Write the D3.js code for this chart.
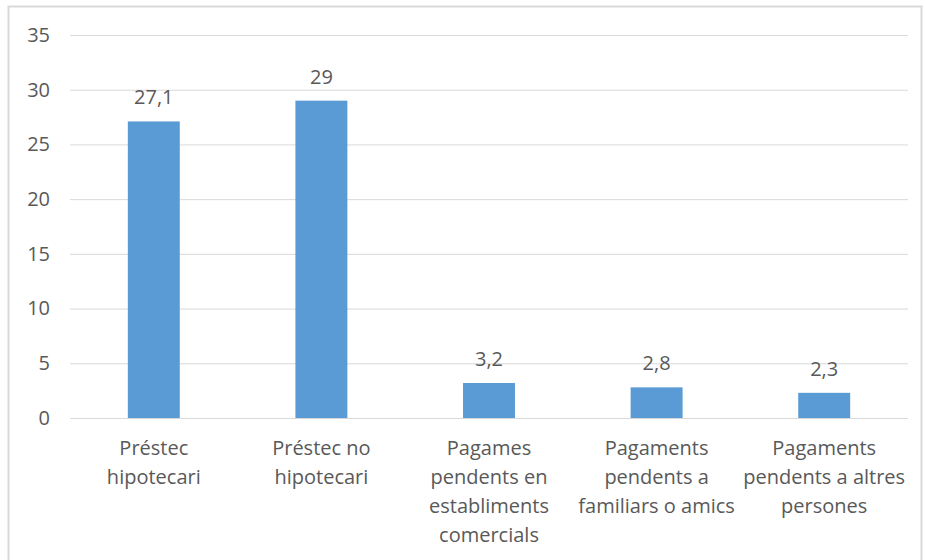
<!DOCTYPE html>
<html>
<head>
<meta charset="utf-8">
<script src="https://cdn.jsdelivr.net/npm/d3@7"></script>
<style>
  body { margin: 0; background: #fff; }
  text { font-family: "Open Sans", "Liberation Sans", sans-serif; fill: #595959; }
</style>
</head>
<body>
<script>
;(() => {
    var width = 925, height = 560;

    // data (\n marks the label line breaks)
    var categories = [
        'Préstec\nhipotecari',
        'Préstec no\nhipotecari',
        'Pagames\npendents en\nestabliments\ncomercials',
        'Pagaments\npendents a\nfamiliars o amics',
        'Pagaments\npendents a altres\npersones'
    ];
    var values = [27.1, 29, 3.2, 2.8, 2.3];
    var yTicks = [0, 5, 10, 15, 20, 25, 30, 35];

    var margin = { left: 70, right: 17, top: 35, bottom: 142 }; // plot area

    var svg = d3.select('body')
        .append('svg')
        .attr('width', width)
        .attr('height', height);

    // chart border
    svg.append('rect')
        .attr('x', 8.5)
        .attr('y', 6.5)
        .attr('width', 913)
        .attr('height', 570)
        .attr('fill', 'none')
        .attr('stroke', '#d9d9d9')
        .attr('stroke-width', 2);

    var x = d3.scaleBand()
        .domain(categories)
        .range([margin.left, width - margin.right])
        .paddingInner(0.69)
        .paddingOuter(0.345);

    var y = d3.scaleLinear()
        .domain([0, 35])
        .range([height - margin.bottom, margin.top]);

    // gridlines + y labels
    var yAxis = svg.append('g')
        .attr('transform', 'translate(' + margin.left + ',0)')
        .call(d3.axisLeft(y)
            .tickValues(yTicks)
            .tickSize(-(width - margin.left - margin.right))
            .tickPadding(20)
            .tickFormat(d3.format('d')));
    yAxis.select('.domain').remove();
    yAxis.selectAll('line')
        .attr('stroke', '#d9d9d9')
        .attr('stroke-width', 1);
    yAxis.selectAll('text')
        .attr('fill', '#595959')
        .style('font-size', '20px');

    // bars
    svg.selectAll('rect.bar')
        .data(values)
        .enter()
        .append('rect')
        .classed('bar', true)
        .attr('x', (d, i) => x(categories[i]))
        .attr('y', d => y(d))
        .attr('width', x.bandwidth())
        .attr('height', d => y(0) - y(d))
        .attr('fill', '#5b9bd5');

    // value labels
    svg.selectAll('text.val')
        .data(values)
        .enter()
        .append('text')
        .classed('val', true)
        .attr('x', (d, i) => x(categories[i]) + x.bandwidth() / 2)
        .attr('y', d => y(d) - 17)
        .attr('text-anchor', 'middle')
        .style('font-size', '20px')
        .text(d => String(d).replace('.', ','));

    // category labels
    var lineH = 29;
    svg.selectAll('text.cat')
        .data(categories)
        .enter()
        .append('text')
        .classed('cat', true)
        .attr('text-anchor', 'middle')
        .style('font-size', '20px')
        .attr('y', y(0) + 37)
        .each(function (c) {
            var cx = x(c) + x.bandwidth() / 2;
            d3.select(this).selectAll('tspan')
                .data(c.split('\n'))
                .enter()
                .append('tspan')
                .attr('x', cx)
                .attr('dy', (d, i) => i ? lineH : 0)
                .text(d => d);
        });
})();
</script>
</body>
</html>
